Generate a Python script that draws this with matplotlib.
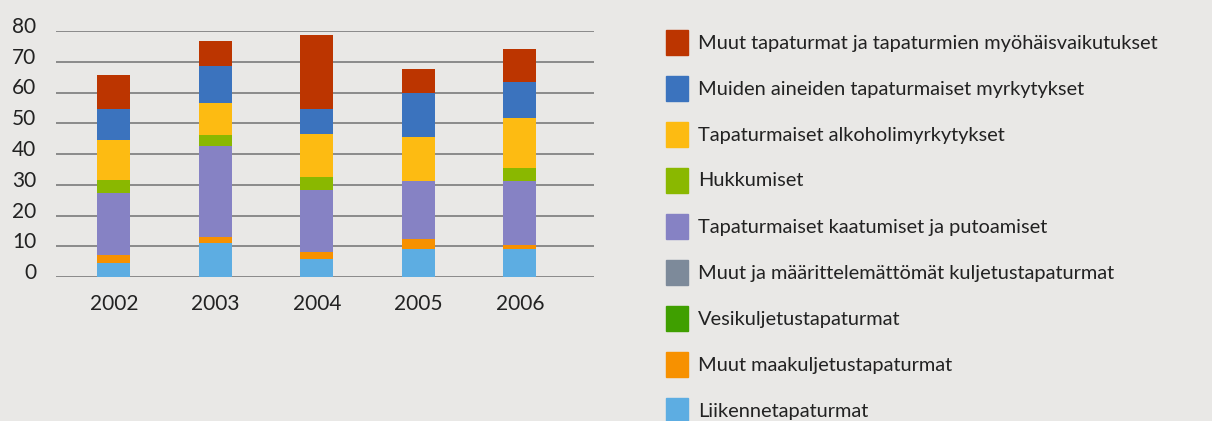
import matplotlib.pyplot as plt
from matplotlib.patches import Rectangle
from matplotlib.transforms import ScaledTranslation
import numpy as np

plt.rcParams['font.family'] = ['Lato', 'DejaVu Sans']

# Data
years = ['2002', '2003', '2004', '2005', '2006']
categories = [
    'Liikennetapaturmat',
    'Muut maakuljetustapaturmat',
    'Vesikuljetustapaturmat',
    'Muut ja määrittelemättömät kuljetustapaturmat',
    'Tapaturmaiset kaatumiset ja putoamiset',
    'Hukkumiset',
    'Tapaturmaiset alkoholimyrkytykset',
    'Muiden aineiden tapaturmaiset myrkytykset',
    'Muut tapaturmat ja tapaturmien myöhäisvaikutukset',
]
liikenne = [4.7, 11.0, 5.9, 9.0, 9.1]
maakuljetus = [2.5, 2.0, 2.3, 3.4, 1.3]
vesikuljetus = [0, 0, 0, 0, 0]
muut_kuljetus = [0, 0, 0, 0, 0]
kaatumiset = [20.1, 29.5, 20.2, 18.9, 20.9]
hukkumiset = [4.1, 3.8, 4.0, 0, 4.2]
alkoholi = [13.2, 10.2, 14.0, 14.1, 16.2]
myrkytykset = [9.9, 12.2, 8.2, 14.4, 11.8]
muut = [11.2, 8.1, 24.1, 7.9, 10.5]

series = [liikenne, maakuljetus, vesikuljetus, muut_kuljetus, kaatumiset,
          hukkumiset, alkoholi, myrkytykset, muut]
colors = ['#5dade2', '#f79100', '#3f9f00', '#7d8a9a', '#8682c4',
          '#8ab800', '#fdbb12', '#3b73be', '#bc3500']

bg = '#e9e8e6'
fig = plt.figure(figsize=(12.12, 4.21), dpi=100, facecolor=bg)
ax = fig.add_axes([55.7 / 1212, 1 - 277 / 421, (594 - 55.7) / 1212, 246 / 421])
ax.set_facecolor(bg)

x = np.arange(len(years))
bottom = np.zeros(len(years))
for vals, col in zip(series, colors):
    ax.bar(x, vals, width=0.325, bottom=bottom, color=col, zorder=3)
    bottom += np.array(vals)

ax.set_ylim(0, 80)
ax.set_xlim(-0.574, 4.73)
ax.set_yticks(range(0, 81, 10))
ax.yaxis.grid(True, color='#7a7a7a', linewidth=1.2, zorder=1)
for s in ax.spines.values():
    s.set_visible(False)
ax.tick_params(length=0, labelsize=15, colors='#222222')
ax.tick_params(axis='y', pad=14)
ax.tick_params(axis='x', pad=12)
ax.set_xticks(x)
ax.set_xticklabels(years)
shift = ScaledTranslation(0, 6 / 100, fig.dpi_scale_trans)
for lbl in ax.get_yticklabels():
    lbl.set_transform(lbl.get_transform() + shift)

# legend, top entry is the top segment of the stack
for i, (label, col) in enumerate(zip(categories[::-1], colors[::-1])):
    y_top = 30 + i * 46
    fig.patches.append(Rectangle((665.7 / 1212, 1 - (y_top + 24.5) / 421),
                                 22.3 / 1212, 24.5 / 421,
                                 transform=fig.transFigure, color=col))
    fig.text(697.7 / 1212, 1 - (y_top + 13) / 421, label, fontsize=14.4,
             color='#222222', va='center', ha='left')

fig.savefig('out.png', dpi=100, facecolor=bg)
